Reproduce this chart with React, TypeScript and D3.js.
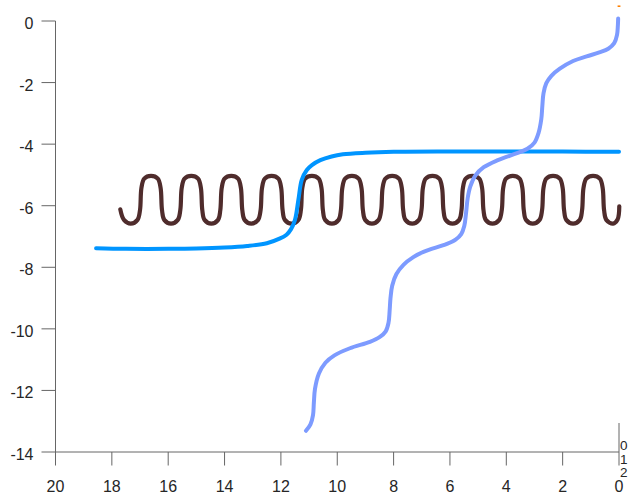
import React from "react";
import * as d3 from "d3";

// tick labels
const xTicks = [20, 18, 16, 14, 12, 10, 8, 6, 4, 2, 0];
const yTicks = [0, -2, -4, -6, -8, -10, -12, -14];
const zTicks = ["0", "1", "2"];

// bright blue step (x, y)
const blueLine: [number, number][] = [
  [18.56, -7.38], [17.5, -7.4], [16, -7.4], [15, -7.39], [14, -7.36],
  [13.2, -7.31], [12.5, -7.22], [12.05, -7.07], [11.8, -6.94], [11.64, -6.76],
  [11.5, -6.46], [11.38, -5.81], [11.26, -5.16], [11.08, -4.84], [10.9, -4.68],
  [10.6, -4.52], [10.2, -4.4], [9.8, -4.33], [9, -4.28], [8, -4.25],
  [6, -4.24], [4, -4.24], [2, -4.24], [0.0, -4.25],
];

// periwinkle staircase (x, y)
const lilacLine: [number, number][] = [
  [11.11, -13.31], [10.95, -13.1], [10.86, -12.8], [10.83, -12.4], [10.79, -11.95],
  [10.65, -11.45], [10.42, -11.1], [10.1, -10.86], [9.55, -10.63], [8.84, -10.42],
  [8.5, -10.27], [8.28, -10.08], [8.18, -9.8], [8.14, -9.4], [8.11, -9.0],
  [8.05, -8.6], [7.9, -8.22], [7.65, -7.92], [7.3, -7.67], [6.94, -7.5],
  [6.11, -7.24], [5.8, -7.1], [5.6, -6.92], [5.49, -6.65], [5.43, -6.25],
  [5.37, -5.75], [5.28, -5.38], [5.1, -5.02], [4.8, -4.75], [4.3, -4.52],
  [3.62, -4.29], [3.25, -4.15], [3.0, -3.95], [2.86, -3.65], [2.76, -3.2],
  [2.72, -2.75], [2.68, -2.35], [2.58, -2.02], [2.4, -1.78], [2.1, -1.55],
  [1.63, -1.3], [1.15, -1.15], [0.7, -1.02], [0.38, -0.9], [0.17, -0.72],
  [0.07, -0.45], [0.04, -0.15], [0.03, 0.08],
];

// dark brown wave (x, y)
const brownWave: [number, number][] = [
  [17.7, -6.12], [17.57, -6.46], [17.33, -6.58], [17.09, -6.46],
  [17.0, -6.14], [16.95, -5.42], [16.85, -5.12], [16.61, -5.03], [16.37, -5.12], [16.27, -5.42], [16.22, -6.14], [16.14, -6.46], [15.9, -6.58], [15.66, -6.46],
  [15.57, -6.14], [15.52, -5.42], [15.42, -5.12], [15.18, -5.03], [14.94, -5.12], [14.84, -5.42], [14.79, -6.14], [14.71, -6.46], [14.47, -6.58], [14.23, -6.46],
  [14.15, -6.14], [14.1, -5.42], [14.0, -5.12], [13.76, -5.03], [13.52, -5.12], [13.42, -5.42], [13.37, -6.14], [13.29, -6.46], [13.05, -6.58], [12.81, -6.46],
  [12.72, -6.14], [12.67, -5.42], [12.57, -5.12], [12.33, -5.03], [12.09, -5.12], [11.99, -5.42], [11.94, -6.14], [11.86, -6.46], [11.62, -6.58], [11.38, -6.46],
  [11.29, -6.14], [11.24, -5.42], [11.14, -5.12], [10.9, -5.03], [10.66, -5.12], [10.56, -5.42], [10.51, -6.14], [10.43, -6.46], [10.19, -6.58], [9.95, -6.46],
  [9.87, -6.14], [9.82, -5.42], [9.72, -5.12], [9.48, -5.03], [9.24, -5.12], [9.14, -5.42], [9.09, -6.14], [9.01, -6.46], [8.77, -6.58], [8.53, -6.46],
  [8.44, -6.14], [8.39, -5.42], [8.29, -5.12], [8.05, -5.03], [7.81, -5.12], [7.71, -5.42], [7.66, -6.14], [7.58, -6.46], [7.34, -6.58], [7.1, -6.46],
  [7.01, -6.14], [6.96, -5.42], [6.86, -5.12], [6.62, -5.03], [6.38, -5.12], [6.28, -5.42], [6.23, -6.14], [6.15, -6.46], [5.91, -6.58], [5.67, -6.46],
  [5.59, -6.14], [5.54, -5.42], [5.44, -5.12], [5.2, -5.03], [4.96, -5.12], [4.86, -5.42], [4.81, -6.14], [4.73, -6.46], [4.49, -6.58], [4.25, -6.46],
  [4.16, -6.14], [4.11, -5.42], [4.01, -5.12], [3.77, -5.03], [3.53, -5.12], [3.43, -5.42], [3.38, -6.14], [3.3, -6.46], [3.06, -6.58], [2.82, -6.46],
  [2.73, -6.14], [2.68, -5.42], [2.58, -5.12], [2.34, -5.03], [2.1, -5.12], [2.0, -5.42], [1.95, -6.14], [1.87, -6.46], [1.63, -6.58], [1.39, -6.46],
  [1.31, -6.14], [1.26, -5.42], [1.16, -5.12], [0.92, -5.03], [0.68, -5.12], [0.58, -5.42], [0.53, -6.14], [0.45, -6.46], [0.21, -6.58],
  [0.05, -6.45], [-0.01, -6.02],
];

// tiny orange bit at the top right
const orangeBit: [number, number][] = [
  [0.05, 0.48], [-0.05, 0.48],
];

const W = 628;
const H = 495;
const font = "'Liberation Sans', Arial, Helvetica, sans-serif";
const axisColor = "#666666";
const textColor = "#262626";

export default function App() {
  const x = d3.scaleLinear().domain([20, 0]).range([55.5, 619]);
  const y = d3.scaleLinear().domain([0, -14]).range([21, 452]);

  const line = d3
    .line<[number, number]>()
    .x((d) => x(d[0]))
    .y((d) => y(d[1]))
    .curve(d3.curveCatmullRom.alpha(0.5));

  const plain = d3
    .line<[number, number]>()
    .x((d) => x(d[0]))
    .y((d) => y(d[1]));

  return (
    <svg
      width={W}
      height={H}
      style={{ position: "absolute", left: 0, top: 0, background: "#fff" }}
      fontFamily={font}
    >
      {/* y axis */}
      <line x1={x(20)} x2={x(20)} y1={y(0)} y2={y(-14)} stroke={axisColor} strokeWidth={1} />
      {yTicks.map((t) => (
        <g key={"y" + t}>
          <line x1={x(20) - 14} x2={x(20)} y1={y(t)} y2={y(t)} stroke={axisColor} strokeWidth={1} />
          <text x={33.5} y={y(t) + 8} textAnchor="end" fontSize={16} fill={textColor}>
            {t}
          </text>
        </g>
      ))}

      {/* x axis */}
      <line x1={x(20)} x2={x(0)} y1={y(-14)} y2={y(-14)} stroke={axisColor} strokeWidth={1} />
      {xTicks.map((t) => (
        <g key={"x" + t}>
          <line x1={x(t)} x2={x(t)} y1={y(-14)} y2={y(-14) + 13.5} stroke={axisColor} strokeWidth={1} />
          <text x={x(t)} y={492} textAnchor="middle" fontSize={16} fill={textColor}>
            {t}
          </text>
        </g>
      ))}

      {/* z axis seen edge-on */}
      <line x1={x(0)} x2={x(0)} y1={423} y2={y(-14)} stroke={axisColor} strokeWidth={1} />
      {zTicks.map((t, i) => (
        <text key={"z" + t} x={620} y={450 + i * 13.5} fontSize={13.5} fill={textColor}>
          {t}
        </text>
      ))}

      {/* series */}
      <path d={line(brownWave) || ""} fill="none" stroke="#4f2c2c" strokeWidth={4.2} strokeLinecap="round" strokeLinejoin="round" />
      <path d={line(blueLine) || ""} fill="none" stroke="#0095ff" strokeWidth={4} strokeLinecap="round" strokeLinejoin="round" />
      <path d={line(lilacLine) || ""} fill="none" stroke="#7d9bff" strokeWidth={4} strokeLinecap="round" strokeLinejoin="round" />
      <path d={plain(orangeBit) || ""} fill="none" stroke="#ff8000" strokeWidth={1.6} />
    </svg>
  );
}
